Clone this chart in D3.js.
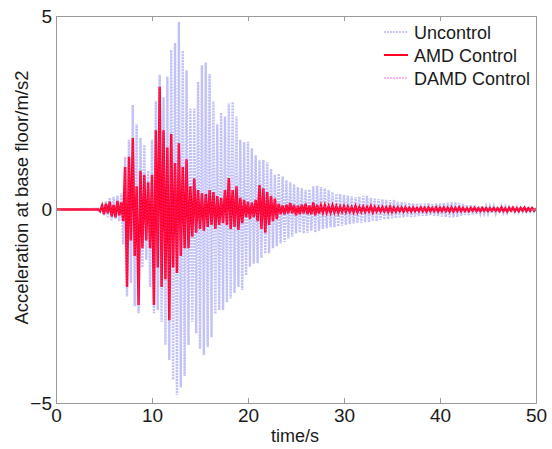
<!DOCTYPE html>
<html>
<head>
<meta charset="utf-8">
<script src="https://cdn.jsdelivr.net/npm/d3@7"></script>
<style>
  body { margin: 0; background: #fff; }
  text { font-family: "Liberation Sans", Arial, sans-serif; fill: #1a1a1a; }
</style>
</head>
<body>
<svg id="chart" width="552" height="449"></svg>
<script>
const xTicks = [0, 10, 20, 30, 40, 50];
const yTicks = [-5, 0, 5];
const seriesNames = ["Uncontrol", "AMD Control", "DAMD Control"];

// peaks, one every 0.2 s from 4.4 s (before that the record is flat)
const sampleStart = 4.4;
const sampleStep = 0.2;

const uncontrolPeaks = [
  0.02, -0.05, 0.12, -0.15, 0.22, -0.2, 0.3, -0.28, 0.33, -0.25,
  0.36, -0.3, 0.42, -0.9, 1.36, -2.25, 1.8, -1.9, 2.7, -2.5,
  2.2, -2.68, 1.85, -1.5, 1.67, -1.3, 1.0, -2.0, 1.8, -2.68,
  2.8, -2.6, 3.48, -2.9, 2.9, -3.5, 3.43, -3.89, 4.12, -4.4,
  4.3, -4.79, 4.85, -4.6, 4.1, -4.3, 3.6, -3.5, 2.6, -2.9,
  2.6, -3.2, 3.3, -3.6, 3.73, -3.76, 3.8, -3.55, 3.5, -3.3,
  2.8, -2.7, 2.2, -2.6, 2.5, -2.6, 2.4, -2.4, 2.74, -2.3,
  2.78, -2.16, 2.4, -2.0, 1.8, -2.08, 1.74, -1.7, 1.75, -1.48,
  1.58, -1.4, 1.4, -1.39, 1.27, -1.25, 1.28, -1.14, 1.22, -1.13,
  1.05, -1.0, 0.9, -0.95, 0.93, -0.88, 0.85, -0.84, 0.76, -0.75,
  0.7, -0.7, 0.65, -0.62, 0.58, -0.6, 0.55, -0.62, 0.5, -0.6,
  0.52, -0.55, 0.6, -0.59, 0.62, -0.55, 0.58, -0.5, 0.55, -0.48,
  0.5, -0.46, 0.45, -0.46, 0.41, -0.44, 0.4, -0.42, 0.38, -0.4,
  0.36, -0.38, 0.34, -0.36, 0.32, -0.35, 0.33, -0.34, 0.35, -0.33,
  0.36, -0.33, 0.3, -0.3, 0.28, -0.3, 0.27, -0.27, 0.26, -0.26,
  0.25, -0.25, 0.24, -0.23, 0.25, -0.22, 0.2, -0.2, 0.19, -0.2,
  0.18, -0.18, 0.17, -0.19, 0.16, -0.18, 0.16, -0.17, 0.15, -0.16,
  0.15, -0.16, 0.16, -0.15, 0.14, -0.16, 0.15, -0.17, 0.16, -0.18,
  0.17, -0.19, 0.18, -0.2, 0.19, -0.2, 0.19, -0.19, 0.17, -0.16,
  0.15, -0.14, 0.12, -0.14, 0.11, -0.12, 0.1, -0.11, 0.09, -0.1,
  0.08, -0.1, 0.08, -0.1, 0.08, -0.09, 0.08, -0.1, 0.07, -0.09,
  0.07, -0.08, 0.07, -0.08, 0.06, -0.07, 0.06, -0.07, 0.06, -0.07,
  0.05, -0.06, 0.05, -0.06, 0.05, -0.05, 0.05, -0.05, 0.04
];

const amdPeaks = [
  0.0, -0.04, 0.1, -0.12, 0.15, -0.1, 0.2, -0.18, 0.12, -0.2,
  0.22, -0.15, 0.18, -0.3, 1.1, -2.0, 1.36, -0.8, 1.85, -1.2,
  0.6, -2.47, 1.0, -1.0, 0.9, -0.8, 0.7, -1.0, 0.9, -2.47,
  2.05, -1.5, 3.17, -2.0, 2.05, -1.8, 1.6, -2.86, 1.95, -1.5,
  1.2, -1.64, 1.71, -1.2, 1.1, -1.0, 1.3, -1.0, 0.6, -0.7,
  0.8, -0.6, 0.5, -0.5, 0.42, -0.55, 0.4, -0.45, 0.5, -0.4,
  0.45, -0.5, 0.35, -0.4, 0.3, -0.35, 0.5, -0.4, 0.81, -0.5,
  0.5, -0.45, 0.6, -0.53, 0.3, -0.35, 0.25, -0.2, 0.2, -0.25,
  0.18, -0.2, 0.25, -0.3, 0.63, -0.5, 0.55, -0.6, 0.45, -0.4,
  0.35, -0.3, 0.28, -0.25, 0.15, -0.12, 0.1, -0.12, 0.12, -0.1,
  0.17, -0.1, 0.12, -0.15, 0.1, -0.12, 0.12, -0.1, 0.15, -0.12,
  0.1, -0.12, 0.18, -0.15, 0.12, -0.1, 0.1, -0.08, 0.1, -0.08,
  0.08, -0.08, 0.1, -0.07, 0.08, -0.08, 0.07, -0.06, 0.08, -0.06,
  0.07, -0.06, 0.06, -0.07, 0.08, -0.07, 0.06, -0.06, 0.07, -0.06,
  0.06, -0.05, 0.08, -0.07, 0.06, -0.05, 0.05, -0.05, 0.06, -0.05,
  0.05, -0.06, 0.07, -0.06, 0.05, -0.05, 0.05, -0.04, 0.05, -0.05,
  0.05, -0.04, 0.04, -0.05, 0.05, -0.04, 0.04, -0.04, 0.05, -0.04,
  0.04, -0.05, 0.05, -0.04, 0.04, -0.04, 0.05, -0.05, 0.04, -0.04,
  0.05, -0.04, 0.04, -0.05, 0.05, -0.05, 0.04, -0.04, 0.05, -0.04,
  0.04, -0.04, 0.03, -0.04, 0.04, -0.03, 0.04, -0.04, 0.03, -0.04,
  0.04, -0.03, 0.03, -0.04, 0.03, -0.03, 0.04, -0.03, 0.03, -0.04,
  0.05, -0.04, 0.03, -0.05, 0.04, -0.03, 0.05, -0.04, 0.03, -0.04,
  0.04, -0.03, 0.05, -0.04, 0.03, -0.03, 0.04, -0.03, 0.02
];

// the DAMD trace lies right on top of the AMD trace in the figure
const damdPeaks = amdPeaks;

function toPoints(peaks) {
  const pts = [{ t: 0, v: 0 }];
  peaks.forEach((v, i) => pts.push({ t: sampleStart + i * sampleStep, v: v }));
  return pts;
}

const attr = { width: 552, height: 449, left: 56, right: 16, top: 16, bottom: 46 };
const svg = d3.select("svg#chart");

const scaleX = d3.scaleLinear().domain([0, 50]).range([attr.left, attr.width - attr.right]);
const scaleY = d3.scaleLinear().domain([-5, 5]).range([attr.height - attr.bottom, attr.top]);

const plotW = attr.width - attr.left - attr.right;
const plotH = attr.height - attr.top - attr.bottom;

svg.append("defs").append("clipPath").attr("id", "clip")
  .append("rect")
  .attr("x", attr.left).attr("y", attr.top)
  .attr("width", plotW).attr("height", plotH);

const line = d3.line().x(d => scaleX(d.t)).y(d => scaleY(d.v));

const styles = [
  { data: uncontrolPeaks, color: "#7676ef", width: 2.4, dash: "2,1", opacity: 0.45, legendW: 1 },
  { data: amdPeaks, color: "#ff0022", width: 2.4, dash: null, opacity: 1, legendW: 2 },
  { data: damdPeaks, color: "#ff44dd", width: 1.2, dash: "1.5,1.5", opacity: 0.45, legendW: 1 }
];

const plot = svg.append("g").attr("clip-path", "url(#clip)");
styles.forEach(s => {
  plot.append("path")
    .datum(toPoints(s.data))
    .attr("fill", "none")
    .attr("stroke", s.color)
    .attr("stroke-width", s.width)
    .attr("stroke-dasharray", s.dash)
    .attr("stroke-opacity", s.opacity)
    .attr("d", line);
});

// axes, MATLAB style box with inward ticks
function styleAxis(g) {
  g.select(".domain").attr("stroke", "#9a9a9a");
  g.selectAll(".tick line").attr("stroke", "#9a9a9a");
  g.selectAll(".tick text").style("font-size", "19px").attr("fill", "#1a1a1a");
}

svg.append("g")
  .attr("transform", `translate(0,${attr.height - attr.bottom})`)
  .call(d3.axisBottom(scaleX).tickValues(xTicks).tickSize(-5).tickPadding(6).tickSizeOuter(0))
  .call(styleAxis);

svg.append("g")
  .attr("transform", `translate(0,${attr.top})`)
  .call(d3.axisTop(scaleX).tickValues(xTicks).tickSize(-5).tickFormat("").tickSizeOuter(0))
  .call(styleAxis);

svg.append("g")
  .attr("transform", `translate(${attr.left},0)`)
  .call(d3.axisLeft(scaleY).tickValues(yTicks).tickSize(-5).tickPadding(4).tickSizeOuter(0))
  .call(styleAxis);

svg.append("g")
  .attr("transform", `translate(${attr.width - attr.right},0)`)
  .call(d3.axisRight(scaleY).tickValues(yTicks).tickSize(-5).tickFormat("").tickSizeOuter(0))
  .call(styleAxis);

svg.append("text")
  .attr("x", scaleX(25) - 1)
  .attr("y", attr.height - 7)
  .attr("text-anchor", "middle")
  .style("font-size", "18px")
  .text("time/s");

svg.append("text")
  .attr("transform", "rotate(-90)")
  .attr("x", -(attr.top + plotH / 2 - 12))
  .attr("y", 28)
  .attr("text-anchor", "middle")
  .style("font-size", "18.5px")
  .text("Acceleration at base floor/m/s2");

// legend
const legendX = 384;
const legendY = 32;
styles.forEach((s, i) => {
  const yy = legendY + i * 23;
  svg.append("line")
    .attr("x1", legendX).attr("x2", legendX + 24)
    .attr("y1", yy).attr("y2", yy)
    .attr("stroke", s.color)
    .attr("stroke-width", s.legendW)
    .attr("stroke-dasharray", i === 1 ? null : "2,1")
    .attr("stroke-opacity", i === 1 ? 1 : 0.8);
  svg.append("text")
    .attr("x", legendX + 30)
    .attr("y", yy + 6.5)
    .style("font-size", "18px")
    .text(seriesNames[i]);
});
</script>
</body>
</html>
